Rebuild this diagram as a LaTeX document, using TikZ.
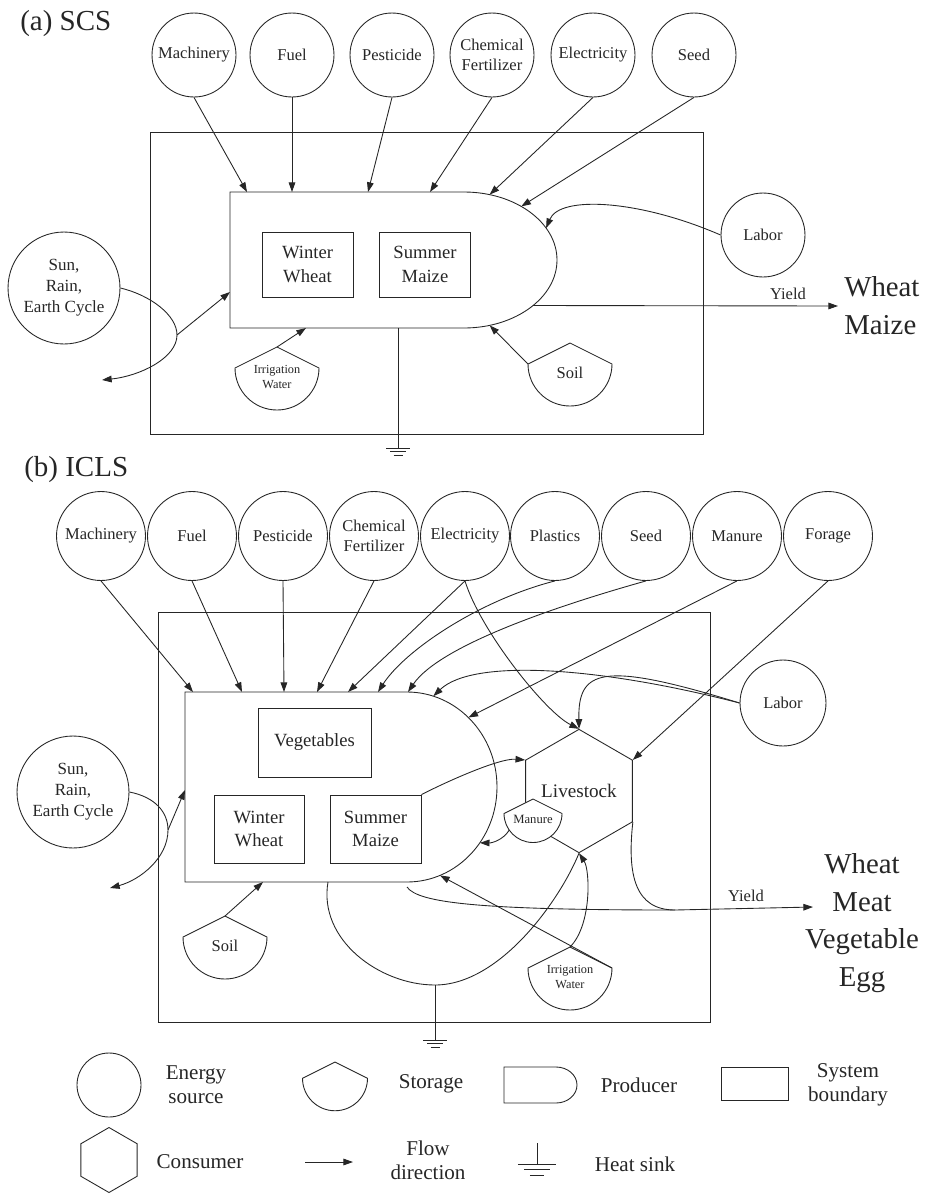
\documentclass[tikz,border=0pt]{standalone}
\usepackage{fontspec}
\setmainfont{Liberation Serif}
\usetikzlibrary{arrows.meta,calc,shapes.geometric}

\begin{document}
\begin{tikzpicture}[x=0.02cm,y=0.02cm,line width=0.5pt,color=black!85,
  flow/.style={-{Triangle[length=5.5pt,width=3.8pt]}},
  src/.style={circle,draw,minimum size=1.68cm,inner sep=1pt,align=center,
              font=\fontsize{9.4}{11}\selectfont},
  box/.style={draw,minimum width=1.82cm,minimum height=1.3cm,align=center,
              font=\fontsize{10.6}{13.5}\selectfont},
  cons/.style={regular polygon,regular polygon sides=6,shape border rotate=30,
               draw,minimum size=2.24cm,inner sep=0pt,
               font=\fontsize{10.9}{13}\selectfont},
  ttl/.style={anchor=west,font=\fontsize{16.5}{18}\selectfont},
  lbl/.style={font=\fontsize{9.4}{11}\selectfont},
  lbltiny/.style={font=\fontsize{7}{8.5}\selectfont},
  lblsun/.style={font=\fontsize{9.7}{12}\selectfont},
  outtxt/.style={align=center,font=\fontsize{16.4}{21.5}\selectfont},
  keytxt/.style={align=center,font=\fontsize{12}{13.6}\selectfont},
  pics/tank/.style 2 args={code={
    \draw[fill=white] (0,0) -- (-#1,-#1/2) arc[start angle=180,end angle=360,radius=#1] -- cycle;
    \coordinate (-top) at (0,0);
    \coordinate (-w) at (-#1,-#1/2);
    \coordinate (-e) at (#1,-#1/2);
    \coordinate (-sw) at ($(0,-#1/2)+(215:#1)$);
    \node[align=center] at (0,-0.72*#1) {#2};
  }},
  pics/producer/.style n args={3}{code={
    \draw (0,0) -- (#1,0) arc[start angle=90,end angle=-90,x radius=#2,y radius=#3] -- (0,-2*#3) -- cycle;
    \coordinate (-nw) at (0,0);
    \coordinate (-sw) at (0,-2*#3);
    \coordinate (-c) at (#1,-#3);
  }},
  pics/sink/.style={code={
    \draw (-12,0) -- (12,0) (-8,-3.7) -- (8,-3.7) (-4.5,-7.4) -- (4.5,-7.4);
  }}]
  \useasboundingbox (0,0) rectangle (924,-1194);

  % ---- (a) SCS ----
  \node[ttl] (ta) at (14,-24) {(a) SCS};
  \foreach \x/\nm/\txt in {194/macha/Machinery, 292/fuela/Fuel, 392/pesta/Pesticide,
      492/ferta/{Chemical\\Fertilizer}, 593/eleca/Electricity, 694/seeda/Seed}
    \node[src] (\nm) at (\x,-55) {\txt};
  \draw (150,-132) rectangle (703,-434);
  \pic (pa) at (230,-192) {producer={234}{93}{68}};
  \node[box] (wwa) at (307.5,-264.5) {Winter\\Wheat};
  \node[box] (sma) at (425,-264.5) {Summer\\Maize};
  \node[src,minimum size=2.24cm,lblsun] (suna) at (64,-288) {Sun,\\Rain,\\Earth Cycle};
  \node[src] (laba) at (763,-235) {Labor};
  \pic[lbltiny] (irra) at (277,-347) {tank={42}{Irrigation\\Water}};
  \pic[lbl] (soila) at (570,-343) {tank={42}{Soil}};
  \node[outtxt,anchor=west,align=left] (outa) at (838,-306) {Wheat\\Maize};
  \node[lbl] (ylda) at (788,-294) {Yield};
  \coordinate (gnda) at (398,-448);
  \coordinate (sunka) at (177,-335);
  \coordinate (outsa) at (102,-380);

  \draw[flow] (macha.south) -- ($(pa-nw)+(17,0)$);
  \draw[flow] (fuela.south) -- ($(pa-nw)+(62,0)$);
  \draw[flow] (pesta.south) -- ($(pa-nw)+(138,0)$);
  \draw[flow] (ferta.south) -- ($(pa-nw)+(200,0)$);
  \draw[flow] (eleca.south) -- ($(pa-c)+(74:93 and 68)$);
  \draw[flow] (seeda.south) -- ($(pa-c)+(52:93 and 68)$);
  \draw[flow] (laba.west) .. controls (640,-200) and (560,-195) .. ($(pa-c)+(28:93 and 68)$);
  \draw[flow] (soila-w) -- ($(pa-c)+(-74:93 and 68)$);
  \draw[flow] (irra-top) -- ($(pa-sw)+(76,0)$);
  \draw[flow] ($(pa-c)+(-42:93 and 68)$) -- (outa.west);
  \draw ($(pa-sw)+(168,0)$) -- (gnda);
  \pic at (gnda) {sink};
  \draw[flow] (suna.east) .. controls (150,-295) and (177,-315) .. (sunka)
              .. controls (177,-358) and (140,-376) .. (outsa);
  \draw[flow] (sunka) -- ($(pa-nw)+(0,-100)$);

  % ---- (b) ICLS ----
  \node[ttl] (tb) at (18,-470) {(b) ICLS};
  \foreach \x/\nm/\txt in {101/machb/Machinery, 192/fuelb/Fuel, 283/pestb/Pesticide,
      374/fertb/{Chemical\\Fertilizer}, 465/elecb/Electricity, 555/plasb/Plastics,
      646/seedb/Seed, 737/manb/Manure, 828/forb/Forage}
    \node[src,minimum size=1.78cm] (\nm) at (\x,-536) {\txt};
  \draw (158,-612) rectangle (710,-1022);
  \pic (pb) at (185,-692) {producer={222}{90}{95}};
  \node[box,minimum width=2.26cm,minimum height=1.38cm] (vegb) at (314.5,-742.5) {Vegetables};
  \node[box,minimum width=1.8cm,minimum height=1.36cm] (wwb) at (259,-829) {Winter\\Wheat};
  \node[box,minimum height=1.36cm] (smb) at (375.5,-829) {Summer\\Maize};
  \node[src,minimum size=2.24cm,lblsun] (sunb) at (73,-792) {Sun,\\Rain,\\Earth Cycle};
  \node[src,minimum size=1.72cm] (labb) at (783,-703) {Labor};
  \node[cons] (lsb) at (579,-791) {Livestock};
  \pic[font=\fontsize{7.2}{8}\selectfont] (mant) at (533,-799) {tank={29}{Manure}};
  \pic[lbltiny] (irrb) at (570,-947) {tank={42}{Irrigation\\Water}};
  \pic[lbl] (soilb) at (225,-916) {tank={42}{Soil}};
  \node[outtxt] (outb) at (862,-923) {Wheat\\Meat\\Vegetable\\Egg};
  \node[lbl] (yldb) at (746,-896) {Yield};
  \coordinate (sunkb) at (168,-830);
  \coordinate (outsb) at (110,-888);
  \coordinate (hsb) at (435,-985);
  \coordinate (gndb) at (435,-1040);
  \coordinate (ydj) at (675,-910);
  \coordinate (ytipb) at (813,-907);

  \draw[flow] (machb.south) -- ($(pb-nw)+(8,0)$);
  \draw[flow] (fuelb.south) -- ($(pb-nw)+(57,0)$);
  \draw[flow] (pestb.south) -- ($(pb-nw)+(99,0)$);
  \draw[flow] (fertb.south) -- ($(pb-nw)+(132,0)$);
  \draw[flow] (elecb.south) -- ($(pb-nw)+(163,0)$);
  \draw[flow] (elecb.south) .. controls (480,-630) and (545,-712) .. (lsb.90);
  \draw[flow] (plasb.south) .. controls (480,-600) and (405,-650) .. ($(pb-nw)+(193,0)$);
  \draw[flow] (seedb.south) .. controls (560,-605) and (440,-645) .. ($(pb-nw)+(223,0)$);
  \draw[flow] (manb.south) -- ($(pb-c)+(47:90 and 95)$);
  \draw[flow] (forb.south) -- (lsb.30);
  \draw[flow] (labb.west) .. controls (600,-667) and (473,-658) .. ($(pb-c)+(73:90 and 95)$);
  \draw[flow] (labb.west) .. controls (600,-660) and (578,-670) .. (lsb.90);
  \draw[flow] (smb.north east) .. controls (450,-780) and (500,-758) .. (lsb.150);
  \draw[flow] (mant-sw) .. controls (503,-840) and (492,-843) .. ($(pb-c)+(-36:90 and 95)$);
  \draw[flow] (irrb-e) -- ($(pb-c)+(-68.5:90 and 95)$);
  \draw[flow] (irrb-top) .. controls (592,-925) and (590,-870) .. (lsb.-90);
  \draw[flow] (soilb-top) -- ($(pb-sw)+(78,0)$);
  \draw ($(pb-sw)+(143,0)$) .. controls (318,-940) and (380,-985) .. (hsb)
        .. controls (500,-985) and (560,-900) .. (lsb.-90);
  \draw (hsb) -- (gndb);
  \pic at (gndb) {sink};
  \draw ($(pb-sw)+(222,-5)$) .. controls (418,-903) and (480,-910) .. (ydj);
  \draw (lsb.-30) .. controls (627,-875) and (635,-910) .. (ydj);
  \draw[flow] (ydj) -- (ytipb);
  \draw[flow] (sunb.east) .. controls (155,-797) and (168,-812) .. (sunkb)
              .. controls (168,-858) and (140,-880) .. (outsb);
  \draw[flow] (sunkb) -- ($(pb-nw)+(0,-98)$);

  % ---- legend ----
  \node[src,minimum size=1.28cm] (kysrc) at (109,-1085) {};
  \node[keytxt] (kysrct) at (196,-1085) {Energy\\source};
  \pic (kysto) at (335,-1062) {tank={32.5}{}};
  \node[keytxt] (kystot) at (431,-1084) {Storage};
  \pic (kypro) at (504,-1067) {producer={52}{21}{18}};
  \node[keytxt] (kyprot) at (639,-1085) {Producer};
  \draw (721,-1067) rectangle (788,-1100);
  \node[keytxt] (kybndt) at (848,-1085) {System\\boundary};
  \node[cons,minimum size=1.3cm] (kycon) at (109,-1160) {};
  \node[keytxt] (kycont) at (200,-1162) {Consumer};
  \coordinate (kyfl1) at (305,-1162);
  \coordinate (kyfl2) at (353,-1162);
  \draw[flow] (kyfl1) -- (kyfl2);
  \node[keytxt] (kyflt) at (428,-1160) {Flow\\direction};
  \draw (537,-1143) -- (537,-1164);
  \pic[scale=1.6] at (537,-1164) {sink};
  \node[keytxt] (kysnkt) at (635,-1164) {Heat sink};
\end{tikzpicture}
\end{document}
